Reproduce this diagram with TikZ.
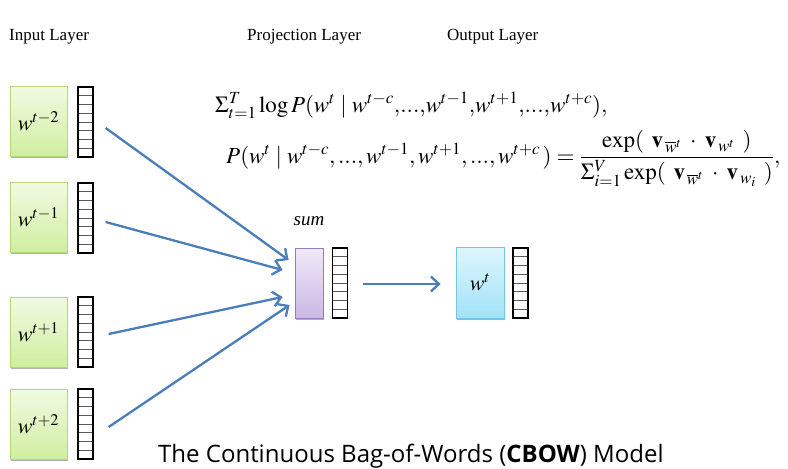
\documentclass[tikz,border=0pt]{standalone}
\usepackage{amsmath}
\usepackage{mathptmx}
\usepackage[no-math]{fontspec}
\setmainfont{Liberation Serif}
\newfontfamily\capfont{Open Sans}
\usetikzlibrary{arrows.meta,shadows,calc}

\definecolor{greenTop}{RGB}{242,250,226}
\definecolor{greenBot}{RGB}{208,238,160}
\definecolor{greenLine}{RGB}{178,214,122}
\definecolor{purpleTop}{RGB}{240,234,248}
\definecolor{purpleBot}{RGB}{202,184,228}
\definecolor{purpleLine}{RGB}{150,122,190}
\definecolor{cyanTop}{RGB}{222,246,253}
\definecolor{cyanBot}{RGB}{162,226,247}
\definecolor{cyanLine}{RGB}{112,200,230}
\definecolor{flowBlue}{RGB}{74,126,187}

\tikzset{
  boxshadow/.style={drop shadow={shadow xshift=1.2pt,shadow yshift=-2.2pt,opacity=0.3,fill=black}},
  inbox/.style={rectangle, draw=greenLine, line width=0.8pt, top color=greenTop, bottom color=greenBot,
    minimum width=57pt, minimum height=70pt, inner sep=0pt, boxshadow, font=\fontsize{22}{26}\selectfont},
  sumbox/.style={rectangle, draw=purpleLine, line width=0.8pt, top color=purpleTop, bottom color=purpleBot,
    minimum width=28pt, minimum height=70pt, inner sep=0pt, boxshadow},
  outbox/.style={rectangle, draw=cyanLine, line width=0.8pt, top color=cyanTop, bottom color=cyanBot,
    minimum width=48pt, minimum height=71pt, inner sep=0pt, boxshadow, font=\fontsize{22}{26}\selectfont},
  vec/.style={rectangle, draw=black, line width=1.3pt, fill=white, minimum width=15pt, minimum height=70pt,
    inner sep=0pt,
    path picture={
      \foreach \k in {1,...,7}{
        \draw[black!65, line width=0.6pt]
          ($(path picture bounding box.north west)!\k/8!(path picture bounding box.south west)$) --
          ($(path picture bounding box.north east)!\k/8!(path picture bounding box.south east)$);
      }
    }},
  flow/.style={draw=flowBlue, line width=2.3pt, -{Straight Barb[length=8pt,width=15pt]}},
  header/.style={anchor=base west, inner sep=0pt, font=\fontsize{17}{20}\selectfont},
  eq/.style={anchor=base west, inner sep=0pt, font=\fontsize{23}{28}\selectfont},
}

\begin{document}
\begin{tikzpicture}[x=1pt,y=-1pt]
\useasboundingbox (0,0) rectangle (788,469);

% layer headings
\node[header] (hin) at (9,40) {Input Layer};
\node[header] (hproj) at (247,40) {Projection Layer};
\node[header] (hout) at (447,40) {Output Layer};

% objective and softmax
\node[eq] (obj) at (215,112)
  {$\Sigma_{t=1}^{T}\log P(w^{t}\mid w^{t-c}{,}...{,}w^{t-1}{,}w^{t+1}{,}...{,}w^{t+c}),$};
\node[eq] (soft) at (226,163)
  {$P(w^{t}\mid w^{t-c}{,}\,...{,}\,w^{t-1}{,}\,w^{t+1}{,}\,...{,}\,w^{t+c}\,)=
   \dfrac{\exp(\;\,\mathbf{v}_{\,\overline{w}^{t}}\;\cdot\;\mathbf{v}_{\,w^{t}}\;\,)}
         {\Sigma_{i=1}^{V}\exp(\;\,\mathbf{v}_{\,\overline{w}^{t}}\;\cdot\;\mathbf{v}_{\,w_{i}}\;\,)},$};

% context words
\node[inbox] (in1) at (38.5,121) {$w^{t-2}$};
\node[vec]   (v1)  at (85.5,122) {};
\node[inbox] (in2) at (38.5,217) {$w^{t-1}$};
\node[vec]   (v2)  at (85.5,218) {};
\node[inbox] (in3) at (38.5,332) {$w^{t+1}$};
\node[vec]   (v3)  at (85.5,332) {};
\node[inbox] (in4) at (38.5,424) {$w^{t+2}$};
\node[vec]   (v4)  at (85.5,424) {};

% projection
\node[sumbox] (sum) at (309,283) {};
\node[vec]    (sv)  at (340,283) {};
\node[anchor=base, inner sep=0pt, font=\fontsize{19}{22}\selectfont\itshape] (sumlbl) at (309,225) {sum};

% output word
\node[outbox] (out) at (480,282.5) {$w^{t}$};
\node[vec]    (ov)  at (520.5,283) {};

% connectors
\draw[flow] ([xshift=12pt,yshift=-6pt]v1.east) -- ([xshift=-6pt,yshift=23pt]sum.west);
\draw[flow] ([xshift=12pt,yshift=-4pt]v2.east) -- ([xshift=-12pt,yshift=13pt]sum.west);
\draw[flow] ([xshift=15pt,yshift=-2pt]v3.east) -- ([xshift=-12pt,yshift=-14pt]sum.west);
\draw[flow] ([xshift=15pt,yshift=-3pt]v4.east) -- ([xshift=-5pt,yshift=-22pt]sum.west);
\draw[flow] ([xshift=15pt,yshift=-1pt]sv.east) -- ([xshift=-15pt,yshift=-1.5pt]out.west);

% caption
\node[anchor=base west, inner sep=0pt, font=\capfont\fontsize{24}{28}\selectfont] (cap) at (158,462)
  {The Continuous Bag-of-Words (\textbf{CBOW}) Model};
\end{tikzpicture}
\end{document}
